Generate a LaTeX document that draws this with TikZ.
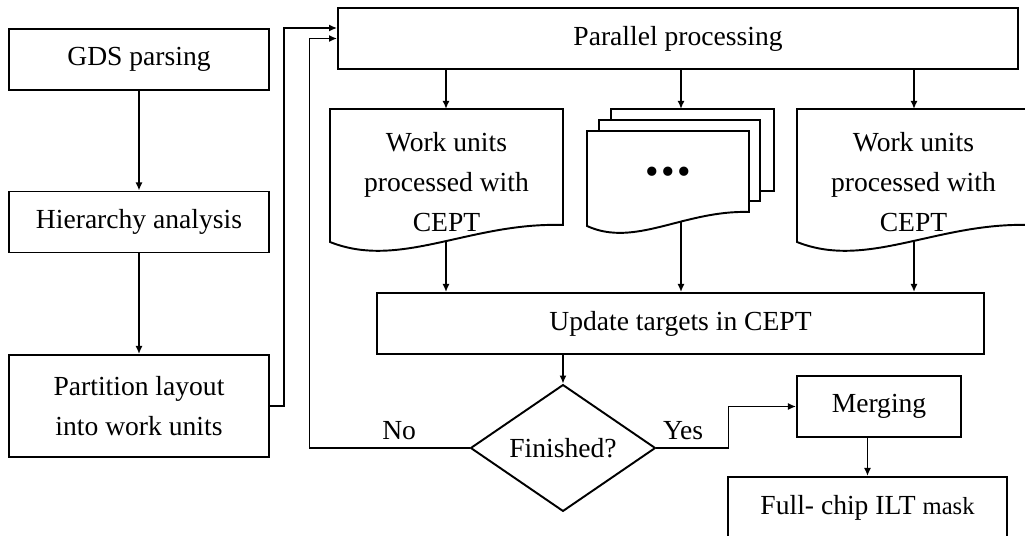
\documentclass[tikz,border=0pt]{standalone}
\usepackage{fontspec}
\setmainfont{Liberation Serif}
\usetikzlibrary{shapes.geometric,arrows.meta}

\begin{document}
\begin{tikzpicture}[x=0.02cm,y=-0.02cm,>={Latex[length=4.6pt,width=4pt]},font=\fontsize{15.7}{23}\selectfont,
  box/.style={draw,line width=1.1pt,align=center,inner sep=0pt,minimum height=1.22cm},
  decision/.style={draw,diamond,line width=1.1pt,inner sep=0pt,minimum width=3.7cm,minimum height=2cm},
  outline/.style={draw,line width=1.1pt,fill=white},
  arr/.style={->,line width=0.9pt}]
\useasboundingbox (0,0) rectangle (1025,536);
\clip (0,0) rectangle (1025,536);
% left column
\node[box,minimum width=5.2cm] (gds) at (139,59.5) {GDS parsing};
\node[box,minimum width=5.2cm] (hier) at (139,222) {Hierarchy analysis};
\node[box,minimum width=5.2cm,minimum height=2.04cm] (part) at (139,406) {Partition layout\\into work units};
\draw[arr] (gds) -- (hier);
\draw[arr] (hier) -- (part);
% parallel part
\node[box,minimum width=13.6cm] (par) at (678,38.5) {Parallel processing};
\draw[outline] (330,109) -- (563,109) -- (563,225) .. controls (470,222) and (400,270) .. (330,242) -- cycle;
\draw[outline] (611,109) rectangle (774,191);
\draw[outline] (599,120) rectangle (760,201);
\draw[outline] (587,131) -- (749,131) -- (749,212) .. controls (684,210) and (635,248) .. (587,226) -- cycle;
\draw[outline] (797,109) -- (1030,109) -- (1030,225) .. controls (937,222) and (867,270) .. (797,242) -- cycle;
\node[align=center] (wu1) at (446.5,182) {Work units\\processed with\\CEPT};
\node (more) at (668,176) {\fontsize{22}{22}\selectfont\textbullet\kern1.5pt\textbullet\kern1.5pt\textbullet};
\node[align=center] (wu3) at (913.5,182) {Work units\\processed with\\CEPT};
\coordinate (wu1t) at (446,109);
\coordinate (wu1b) at (446,241);
\coordinate (moret) at (681,109);
\coordinate (moreb) at (681,221);
\coordinate (wu3t) at (914,109);
\coordinate (wu3b) at (914,241);
\node[box,minimum width=12.14cm] (upd) at (680.5,323.5) {Update targets in CEPT};
\draw[arr] (wu1t |- par.south) -- (wu1t);
\draw[arr] (moret |- par.south) -- (moret);
\draw[arr] (wu3t |- par.south) -- (wu3t);
\draw[arr] (wu1b) -- (wu1b |- upd.north);
\draw[arr] (moreb) -- (moreb |- upd.north);
\draw[arr] (wu3b) -- (wu3b |- upd.north);
% decision and output
\node[decision] (fin) at (563,448) {Finished?};
\node[box,minimum width=3.28cm] (merge) at (879,406.5) {Merging};
\node[box,minimum width=5.58cm] (full) at (867.5,507.5) {Full- chip ILT {\fontsize{14}{16}\selectfont mask}};
\draw[arr] (fin.north |- upd.south) -- (fin.north);
\draw[arr] (fin.east) -- ++(72,0) node[pos=0.37,above=1pt] {Yes} |- (merge.west);
\draw[arr] (fin.west) -- ++(-160,0) node[pos=0.44,above=1pt] {No} |- (par.west);
\draw[arr] (part.east) -- ++(14,0) |- ([yshift=0.21cm]par.west);
\draw[arr] (full.north |- merge.south) -- (full.north);
\end{tikzpicture}
\end{document}
